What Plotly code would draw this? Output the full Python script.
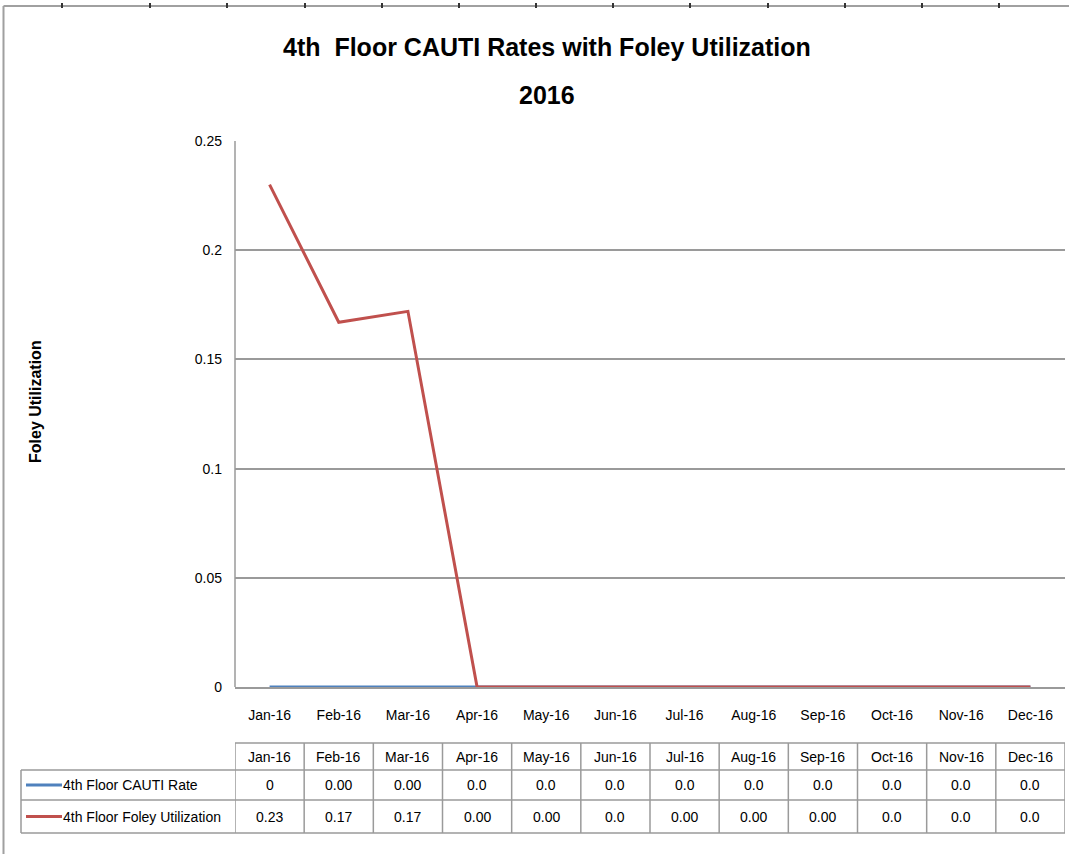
import plotly.graph_objects as go

months = ["Jan-16", "Feb-16", "Mar-16", "Apr-16", "May-16", "Jun-16",
          "Jul-16", "Aug-16", "Sep-16", "Oct-16", "Nov-16", "Dec-16"]
cauti_rate = [0, 0, 0, 0, 0, 0, 0, 0, 0, 0, 0, 0]
foley_util = [0.23, 0.167, 0.172, 0, 0, 0, 0, 0, 0, 0, 0, 0]
cauti_labels = ["0", "0.00", "0.00", "0.0", "0.0", "0.0", "0.0", "0.0", "0.0", "0.0", "0.0", "0.0"]
foley_labels = ["0.23", "0.17", "0.17", "0.00", "0.00", "0.0", "0.00", "0.00", "0.00", "0.0", "0.0", "0.0"]
series_names = ["4th Floor CAUTI Rate", "4th Floor Foley Utilization"]
colors = ["#4F81BD", "#C0504D"]

W, H = 1069, 854
L, R, T, B = 235, 1065, 141, 687
NARROW = "Liberation Sans Narrow, Arial Narrow, Liberation Sans, sans-serif"


def py(p):
    return (B - p) / (B - T)


def px(x):
    return (x - L) / (R - L)


fig = go.Figure()
fig.add_trace(go.Scatter(x=months, y=cauti_rate, mode="lines", name=series_names[0],
                         line=dict(color=colors[0], width=3)))
fig.add_trace(go.Scatter(x=months, y=foley_util, mode="lines", name=series_names[1],
                         line=dict(color=colors[1], width=3)))

shapes = []
annotations = []
grid = "#9A9A9A"

# outer frame decoration
shapes.append(dict(type="line", xref="paper", yref="paper", x0=px(3.5), x1=px(1069),
                   y0=py(6), y1=py(6), line=dict(color="#A0A0A0", width=2)))
shapes.append(dict(type="line", xref="paper", yref="paper", x0=px(3.5), x1=px(3.5),
                   y0=py(6), y1=py(854), line=dict(color="#A0A0A0", width=2)))
for tx in [62, 150, 227, 305, 382, 459, 536, 613, 690, 768, 845, 922, 999]:
    shapes.append(dict(type="line", xref="paper", yref="paper", x0=px(tx), x1=px(tx),
                       y0=py(3), y1=py(8), line=dict(color="#333333", width=2)))

# left plot border
shapes.append(dict(type="line", xref="paper", yref="paper", x0=0, x1=0, y0=0, y1=1,
                   line=dict(color=grid, width=1.5)))

# data table
row_y = [743, 770, 800, 833]
tbl_left = 21
for yy in row_y[:1]:
    shapes.append(dict(type="line", xref="x", yref="paper", x0=-0.5, x1=11.5,
                       y0=py(yy), y1=py(yy), line=dict(color=grid, width=1.5)))
for yy in row_y[1:]:
    shapes.append(dict(type="line", xref="paper", yref="paper", x0=px(tbl_left), x1=1,
                       y0=py(yy), y1=py(yy), line=dict(color=grid, width=1.5)))
for i in range(13):
    shapes.append(dict(type="line", xref="x", yref="paper", x0=i - 0.5, x1=i - 0.5,
                       y0=py(row_y[0]), y1=py(row_y[3]), line=dict(color=grid, width=1.5)))
shapes.append(dict(type="line", xref="paper", yref="paper", x0=px(tbl_left), x1=px(tbl_left),
                   y0=py(row_y[1]), y1=py(row_y[3]), line=dict(color=grid, width=1.5)))

tfont = dict(family=NARROW, size=14, color="#000000")
for i, m in enumerate(months):
    annotations.append(dict(x=m, y=py((row_y[0] + row_y[1]) / 2), xref="x", yref="paper",
                            text=m, showarrow=False, font=tfont, xanchor="center", yanchor="middle"))
    annotations.append(dict(x=m, y=py((row_y[1] + row_y[2]) / 2), xref="x", yref="paper",
                            text=cauti_labels[i], showarrow=False, font=tfont,
                            xanchor="center", yanchor="middle"))
    annotations.append(dict(x=m, y=py((row_y[2] + row_y[3]) / 2), xref="x", yref="paper",
                            text=foley_labels[i], showarrow=False, font=tfont,
                            xanchor="center", yanchor="middle"))

for k, name in enumerate(series_names):
    yc = py((row_y[k + 1] + row_y[k + 2]) / 2)
    shapes.append(dict(type="line", xref="paper", yref="paper", x0=px(26), x1=px(62),
                       y0=yc, y1=yc, line=dict(color=colors[k], width=3)))
    annotations.append(dict(x=px(61), y=yc, xref="paper", yref="paper", text=name,
                            showarrow=False, font=tfont, xanchor="left", yanchor="middle"))

# y-axis title
annotations.append(dict(x=px(35), y=py(402), xref="paper", yref="paper",
                        text="<b>Foley Utilization</b>", textangle=-90, showarrow=False,
                        font=dict(family="Liberation Sans, Arial, sans-serif", size=16, color="#000000"),
                        xanchor="center", yanchor="middle"))

# title
annotations.append(dict(x=px(547), y=py(47), xref="paper", yref="paper",
                        text="<b>4th  Floor CAUTI Rates with Foley Utilization</b>", showarrow=False,
                        font=dict(family=NARROW, size=25, color="#000000"),
                        xanchor="center", yanchor="middle"))
annotations.append(dict(x=px(547), y=py(95), xref="paper", yref="paper",
                        text="<b>2016</b>", showarrow=False,
                        font=dict(family=NARROW, size=25, color="#000000"),
                        xanchor="center", yanchor="middle"))

fig.update_layout(
    width=W, height=H,
    margin=dict(l=L, r=W - R, t=T, b=H - B),
    paper_bgcolor="white", plot_bgcolor="white",
    showlegend=False,
    shapes=shapes, annotations=annotations,
    xaxis=dict(type="category", range=[-0.5, 11.5], showgrid=False,
               showline=True, linecolor=grid, linewidth=1.5,
               ticks="", tickfont=dict(family=NARROW, size=14, color="#000000"),
               ticklabelstandoff=14),
    yaxis=dict(range=[0, 0.25], dtick=0.05, showgrid=True, gridcolor=grid, gridwidth=1.5,
               zeroline=False, showline=False, ticks="",
               tickformat="", tickfont=dict(family=NARROW, size=14, color="#000000"),
               ticklabelstandoff=12),
)
fig.write_html("out.html", config={"displayModeBar": False},
               post_script="document.body.style.margin='0';document.body.style.overflow='hidden';")
